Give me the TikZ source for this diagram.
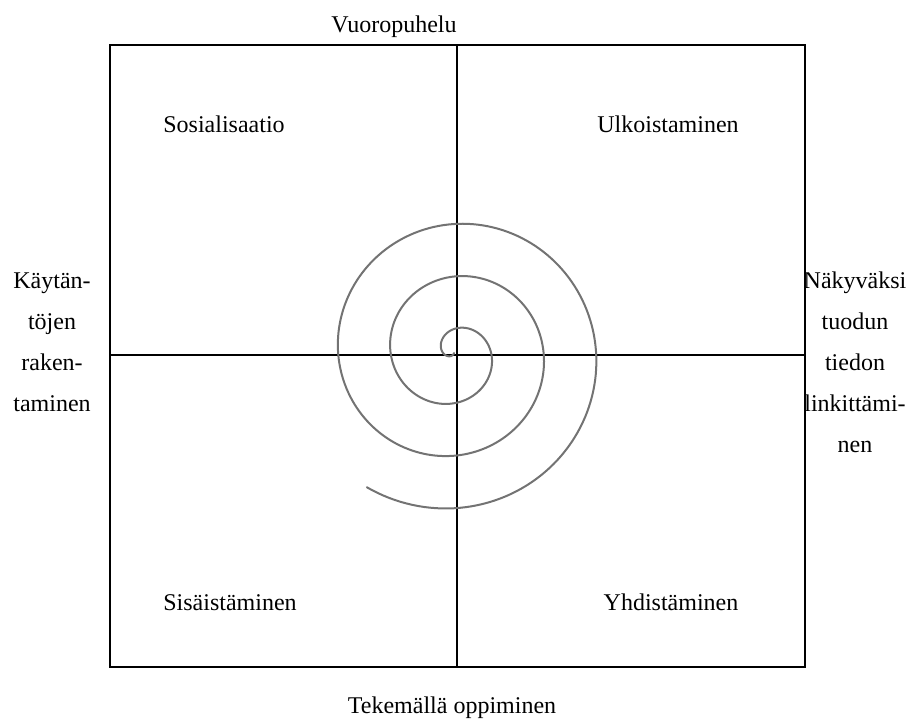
\documentclass[tikz,border=0pt]{standalone}
\usepackage{fontspec}
\setmainfont{Liberation Serif}
\begin{document}
\begin{tikzpicture}[x=1pt,y=-1pt,
  frame/.style={draw=black,line width=1.3pt},
  axis/.style={draw=black,line width=1.3pt},
  spiralline/.style={draw=black!55,line width=2pt,line cap=round},
  lbl/.style={inner sep=0pt,anchor=base,font=\fontsize{24}{30}\selectfont}]
\useasboundingbox (0,0) rectangle (912,718);
% frame corners and axes ends
\coordinate (tl) at (110,45);
\coordinate (br) at (805,667);
\coordinate (vt) at (457,45);
\coordinate (vb) at (457,667);
\coordinate (hl) at (110,355);
\coordinate (hr) at (805,355);
\draw[frame] (tl) rectangle (br);
\draw[axis] (vt) -- (vb);
\draw[axis] (hl) -- (hr);
% spiral
\draw[spiralline] plot[domain=-165:933,samples=500]
  ({454+(24+0.1458333*\x)*sin(\x)},{353-(24+0.1458333*\x)*cos(\x)});
% labels
\node[lbl] (top) at (394,32) {Vuoropuhelu};
\node[lbl] (bot) at (452,713) {Tekemällä oppiminen};
\node[lbl] (soc) at (224,132) {Sosialisaatio};
\node[lbl] (ulk) at (668,132) {Ulkoistaminen};
\node[lbl] (sis) at (230,610) {Sisäistäminen};
\node[lbl] (yhd) at (671,610) {Yhdistäminen};
\node[lbl] (l1) at (52,288) {Käytän-};
\node[lbl] (l2) at (52,329) {töjen};
\node[lbl] (l3) at (52,370) {raken-};
\node[lbl] (l4) at (52,411) {taminen};
\node[lbl] (r1) at (855,288) {Näkyväksi};
\node[lbl] (r2) at (855,329) {tuodun};
\node[lbl] (r3) at (855,370) {tiedon};
\node[lbl] (r4) at (855,411) {linkittämi-};
\node[lbl] (r5) at (855,452) {nen};
\end{tikzpicture}
\end{document}
